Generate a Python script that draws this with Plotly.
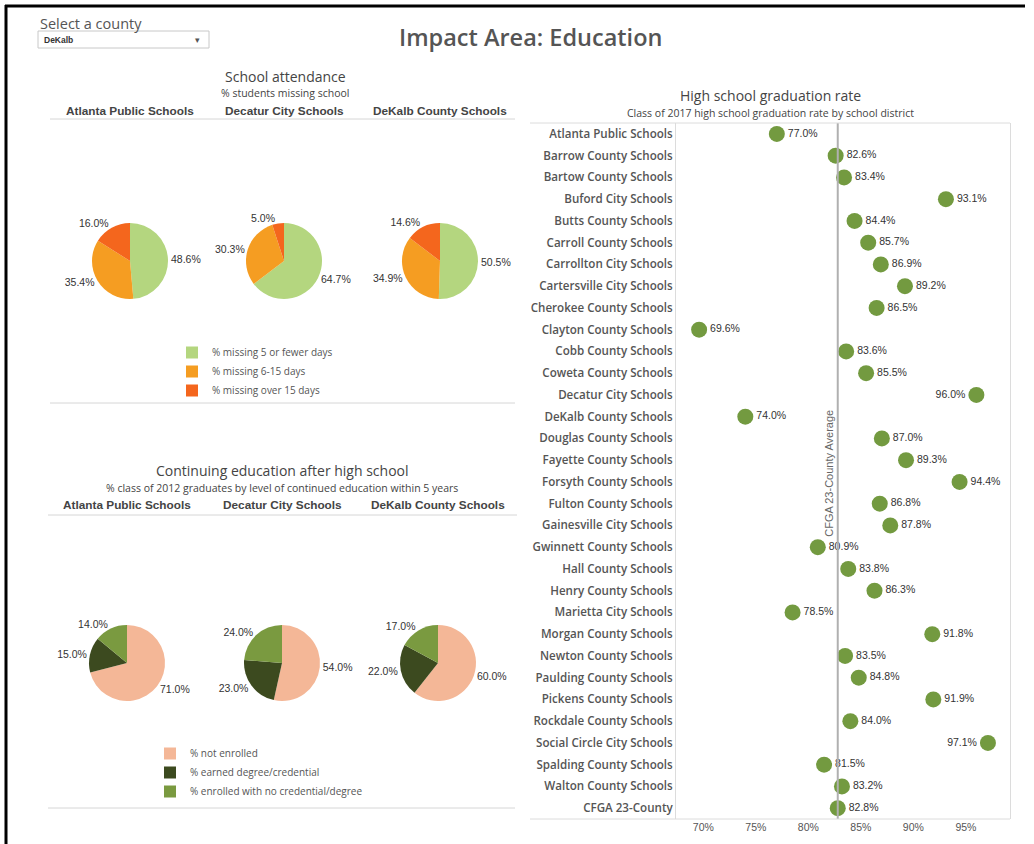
import plotly.graph_objects as go

W, H = 1034, 844

# ---- data -------------------------------------------------------------
district_cols = ["Atlanta Public Schools", "Decatur City Schools", "DeKalb County Schools"]

attend_labels = ["% missing 5 or fewer days", "% missing 6-15 days", "% missing over 15 days"]
attend_atlanta = [48.6, 35.4, 16.0]
attend_decatur = [64.7, 30.3, 5.0]
attend_dekalb = [50.5, 34.9, 14.6]

cont_labels = ["% not enrolled", "% earned degree/credential", "% enrolled with no credential/degree"]
cont_atlanta = [71.0, 15.0, 14.0]
cont_decatur = [54.0, 23.0, 24.0]
cont_dekalb = [60.0, 22.0, 17.0]

grad_districts = [
    "Atlanta Public Schools", "Barrow County Schools", "Bartow County Schools",
    "Buford City Schools", "Butts County Schools", "Carroll County Schools",
    "Carrollton City Schools", "Cartersville City Schools", "Cherokee County Schools",
    "Clayton County Schools", "Cobb County Schools", "Coweta County Schools",
    "Decatur City Schools", "DeKalb County Schools", "Douglas County Schools",
    "Fayette County Schools", "Forsyth County Schools", "Fulton County Schools",
    "Gainesville City Schools", "Gwinnett County Schools", "Hall County Schools",
    "Henry County Schools", "Marietta City Schools", "Morgan County Schools",
    "Newton County Schools", "Paulding County Schools", "Pickens County Schools",
    "Rockdale County Schools", "Social Circle City Schools", "Spalding County Schools",
    "Walton County Schools", "CFGA 23-County",
]
grad_rates = [
    77.0, 82.6, 83.4, 93.1, 84.4, 85.7, 86.9, 89.2, 86.5, 69.6, 83.6, 85.5,
    96.0, 74.0, 87.0, 89.3, 94.4, 86.8, 87.8, 80.9, 83.8, 86.3, 78.5, 91.8,
    83.5, 84.8, 91.9, 84.0, 97.1, 81.5, 83.2, 82.8,
]
cfga_average = 82.8
x_ticks = [70, 75, 80, 85, 90, 95]

attend_colors = ["#b4d67f", "#f59d22", "#f4661d"]
cont_colors = ["#f4b797", "#3c4a1f", "#7a9a40"]
dot_color = "#739a40"

SANS = "Open Sans, Lato, sans-serif"
ARIAL = "Liberation Sans, Arial, sans-serif"


def px(x):
    return x / W


def py(y):
    return 1 - y / H


fig = go.Figure()

# ---- pies -------------------------------------------------------------
def add_pie(values, labels, colors, cx, cy, legend, show, r=38):
    fig.add_trace(go.Pie(
        values=values, labels=labels, sort=False, direction="clockwise",
        marker=dict(colors=colors, line=dict(width=0)),
        textposition="outside", texttemplate="%{value:.1f}%",
        textfont=dict(family=ARIAL, size=10.5, color="#333"),
        domain=dict(x=[px(cx - r), px(cx + r)], y=[py(cy + r), py(cy - r)]),
        showlegend=show, legend=legend, hoverinfo="label+value",
    ))


attend_centers = [(130, 261), (284, 261), (440, 261)]
for i, vals in enumerate([attend_atlanta, attend_decatur, attend_dekalb]):
    add_pie(vals, attend_labels, attend_colors, *attend_centers[i], "legend", i == 0)

cont_centers = [(127, 663), (282, 663), (438, 663)]
for i, vals in enumerate([cont_atlanta, cont_decatur, cont_dekalb]):
    add_pie(vals, cont_labels, cont_colors, *cont_centers[i], "legend2", i == 0)

# ---- graduation dot plot ---------------------------------------------
positions = ["middle left" if v > 95.5 else "middle right" for v in grad_rates]
fig.add_trace(go.Scatter(
    x=grad_rates, y=grad_districts, mode="markers+text",
    marker=dict(size=16, color=dot_color),
    text=[f"{v:.1f}%" for v in grad_rates], textposition=positions,
    textfont=dict(family=ARIAL, size=10.5, color="#333"),
    showlegend=False, hoverinfo="x+y",
))

plot_left, plot_right, plot_top, plot_bottom = 676, 1010, 123, 819

fig.update_layout(
    width=W, height=H, margin=dict(l=0, r=0, t=0, b=0),
    paper_bgcolor="white", plot_bgcolor="white",
    xaxis=dict(
        domain=[px(plot_left), px(plot_right)], range=[67.4, 99.2],
        tickvals=x_ticks, ticktext=[f"{t}%" for t in x_ticks],
        showgrid=False, zeroline=False, showline=False, ticks="",
        tickfont=dict(family=ARIAL, size=10.5, color="#555"),
    ),
    yaxis=dict(
        domain=[py(plot_bottom), py(plot_top)],
        categoryorder="array", categoryarray=grad_districts,
        range=[len(grad_districts) - 0.5, -0.5],
        showgrid=False, zeroline=False, showline=True, mirror=True,
        linecolor="#dcdcdc", linewidth=1, ticks="",
        tickfont=dict(family=SANS, size=11.6, color="#555", weight=600),
    ),
    legend=dict(
        x=px(172), y=py(338), xanchor="left", yanchor="top",
        font=dict(family=SANS, size=10, color="#555"),
        tracegroupgap=0, itemwidth=30, bgcolor="rgba(0,0,0,0)",
    ),
    legend2=dict(
        x=px(150), y=py(739), xanchor="left", yanchor="top",
        font=dict(family=SANS, size=10, color="#555"),
        tracegroupgap=0, itemwidth=30, bgcolor="rgba(0,0,0,0)",
    ),
)

shapes = [
    # CFGA average reference line
    dict(type="line", xref="x", yref="paper", x0=cfga_average, x1=cfga_average,
         y0=py(plot_bottom), y1=py(plot_top), line=dict(color="#b0b0b0", width=2)),
    # table top / bottom rules on the right panel
    dict(type="line", xref="paper", yref="paper", x0=px(530), x1=px(plot_right),
         y0=py(plot_top), y1=py(plot_top), line=dict(color="#dcdcdc", width=1)),
    dict(type="line", xref="paper", yref="paper", x0=px(530), x1=px(plot_right),
         y0=py(plot_bottom), y1=py(plot_bottom), line=dict(color="#dcdcdc", width=1)),
    # left panel rules
    dict(type="line", xref="paper", yref="paper", x0=px(50), x1=px(515),
         y0=py(119), y1=py(119), line=dict(color="#d6d6d6", width=1)),
    dict(type="line", xref="paper", yref="paper", x0=px(50), x1=px(515),
         y0=py(403), y1=py(403), line=dict(color="#d6d6d6", width=1)),
    dict(type="line", xref="paper", yref="paper", x0=px(48), x1=px(517),
         y0=py(515), y1=py(515), line=dict(color="#d6d6d6", width=1)),
    dict(type="line", xref="paper", yref="paper", x0=px(48), x1=px(515),
         y0=py(808), y1=py(808), line=dict(color="#d6d6d6", width=1)),
    # dropdown box
    dict(type="rect", xref="paper", yref="paper", x0=px(38), x1=px(209),
         y0=py(48), y1=py(31), line=dict(color="#c8c8c8", width=1), fillcolor="white"),
    # dashboard frame
    dict(type="line", xref="paper", yref="paper", x0=px(5), x1=px(1025),
         y0=py(6), y1=py(6), line=dict(color="black", width=3)),
    dict(type="line", xref="paper", yref="paper", x0=px(6), x1=px(6),
         y0=py(844), y1=py(5), line=dict(color="black", width=3)),
]
fig.update_layout(shapes=shapes)


def note(text, x, y, size, color="#555", family=SANS, weight=None,
         xanchor="center", **kw):
    font = dict(family=family, size=size, color=color)
    if weight:
        font["weight"] = weight
    fig.add_annotation(text=text, x=px(x), y=py(y), xref="paper", yref="paper",
                       showarrow=False, xanchor=xanchor, yanchor="middle",
                       font=font, **kw)


note("Impact Area: Education", 530, 37, 23.5, color="#555", weight=600)
note("Select a county", 38, 23, 14.5, color="#555", xanchor="left")
note("DeKalb", 42, 40, 8.5, color="#333", family=ARIAL, weight=700, xanchor="left")
note("▾", 197, 40, 9, color="#555", family=ARIAL)

note("School attendance", 285, 76, 14, color="#444")
note("% students missing school", 285, 93, 10.5, color="#444", weight=500)
for name, (cx, _) in zip(district_cols, attend_centers):
    note(name, cx, 111, 11.8, color="#444", family=ARIAL, weight=700)

note("Continuing education after high school", 282, 470, 14, color="#444")
note("% class of 2012 graduates by level of continued education within 5 years",
     282, 488, 10.5, color="#444", weight=500)
for name, (cx, _) in zip(district_cols, cont_centers):
    note(name, cx, 505, 11.8, color="#444", family=ARIAL, weight=700)

note("High school graduation rate", 770, 96, 14, color="#444")
note("Class of 2017 high school graduation rate by school district", 770, 113, 10.5,
     color="#444", weight=500)

fig.add_annotation(text="CFGA 23-County Average", x=cfga_average, xref="x",
                   y=py(473), yref="paper", xanchor="right", xshift=-1,
                   showarrow=False, textangle=-90,
                   font=dict(family=ARIAL, size=11, color="#666"))

fig.write_html("out.html", config={"displayModeBar": False},
               post_script="document.body.style.margin='0';")
